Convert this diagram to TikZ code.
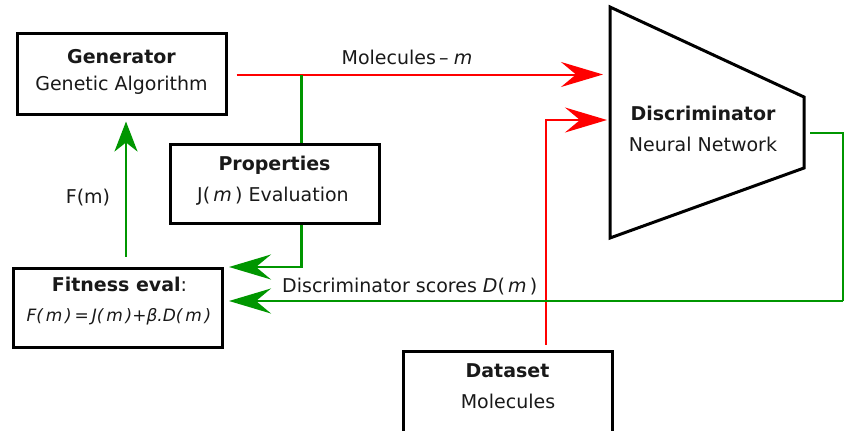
\documentclass[tikz,border=0pt]{standalone}
\usepackage{fontspec}
\setmainfont{DejaVu Sans}
\usetikzlibrary{arrows.meta,calc}
\definecolor{gr}{RGB}{0,150,0}
\definecolor{rd}{RGB}{255,0,0}
\definecolor{txt}{RGB}{25,25,25}
\begin{document}
\begin{tikzpicture}[x=1pt,y=-1pt,
  box/.style={draw=black, line width=3pt, inner sep=0pt},
  lbl/.style={text=txt, inner sep=0pt, anchor=base, font=\fontsize{19}{23}\selectfont},
  hd/.style={lbl, font=\fontsize{19}{23}\selectfont\bfseries},
  redline/.style={draw=rd, line width=2pt},
  greenline/.style={draw=gr, line width=2.5pt},
  bighead/.style={-{Stealth[length=42pt, width=25pt, inset=15pt]}},
  smallhead/.style={-{Stealth[length=30pt, width=23pt, inset=9pt]}}]
\useasboundingbox (0,0) rectangle (844,431);
\clip (0,0) rectangle (844,431);

% boxes
\node[box, minimum width=209pt, minimum height=81pt] (gen) at (121.5,73.5) {};
\node[hd] at (121.5,63) {Generator};
\node[lbl] at (121.5,90.5) {Genetic Algorithm};

\node[box, minimum width=209pt, minimum height=79pt] (prop) at (274.5,183.5) {};
\node[hd] at (274.5,170) {Properties};
\node[lbl] at (273,201.5) {J(\,\textit{m}\,) Evaluation};

\node[box, minimum width=209pt, minimum height=79pt] (fit) at (117.5,307.5) {};
\node[lbl] at (119.5,291.5) {\textbf{Fitness eval}:};
\node[lbl, font=\fontsize{17}{21}\selectfont\itshape] at (119,321.5) {F(\,m\,)\,=\,J(\,m\,)+β.D(\,m\,)};

\node[box, minimum width=209pt, minimum height=89pt] (data) at (507.5,395.5) {};
\node[hd] at (507.5,377.5) {Dataset};
\node[lbl] at (508,408.5) {Molecules};

% discriminator
\coordinate (dtl) at (610,7);
\coordinate (dtr) at (804,97);
\coordinate (dbr) at (804,168);
\coordinate (dbl) at (610,238);
\draw[line width=3pt] (dtl) -- (dtr) -- (dbr) -- (dbl) -- cycle;
\node[hd] (disc) at (703,120) {Discriminator};
\node[lbl] at (703,151.5) {Neural Network};

% junction / helper coordinates
\coordinate (j1) at (301.5,74.5);
\coordinate (r2) at (546,120);
\coordinate (gx) at (126,0);
\coordinate (fa1) at (229,267);
\coordinate (fa2) at (229,301);
\coordinate (dout) at (810,133);
\coordinate (rc1) at (843,133);
\coordinate (rc2) at (843,301);

% molecules arrow
\draw[redline, bighead, shorten <=9pt, shorten >=7pt] (gen.east |- j1) -- (dtl |- j1);
\node[lbl] (mlab) at (407,64) {Molecules\,–\;\textit{m}};

% properties branch
\draw[greenline] (j1) -- (j1 |- prop.north);
\draw[greenline, bighead] (prop.south -| j1) |- (fa1);

% dataset to discriminator
\draw[redline, bighead, shorten <=5pt, shorten >=3pt] (data.north -| r2) -- (r2) -- (dtl |- r2);

% discriminator scores back
\draw[draw=gr, line width=1.3pt] (dout) -- (rc1) -- (rc2);
\draw[greenline, bighead] (rc2) -- (fa2);
\node[lbl, anchor=base west] (dlab) at (282,292) {Discriminator scores \textit{D}(\,\textit{m}\,)};

% fitness to generator
\draw[greenline, smallhead, shorten <=10pt, shorten >=6pt] (fit.north -| gx) -- (gen.south -| gx);
\node[lbl] (flab) at (88,203) {F(m)};
\end{tikzpicture}
\end{document}
